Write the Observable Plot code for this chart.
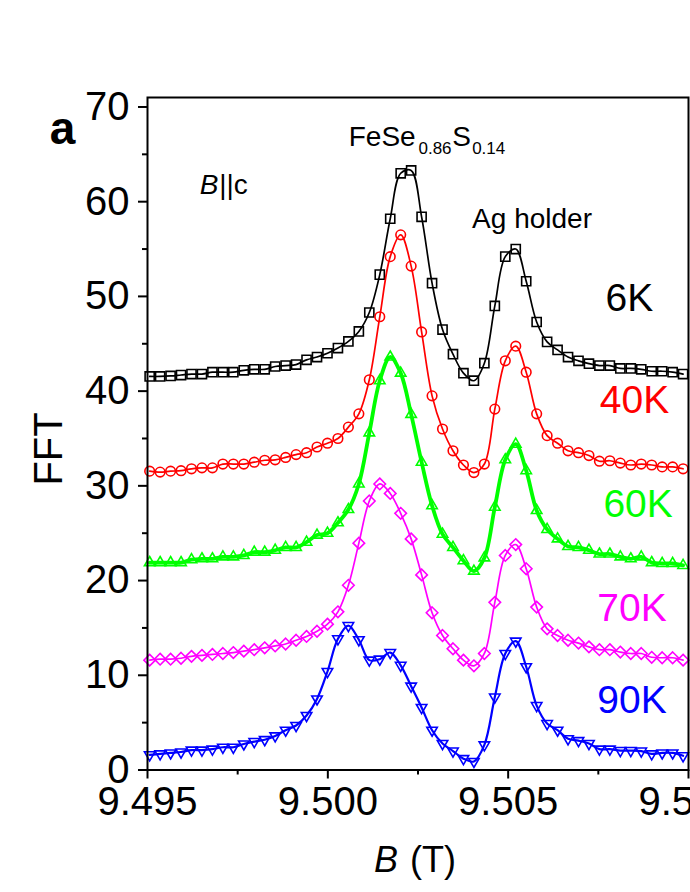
<!DOCTYPE html>
<html>
<head>
<meta charset="utf-8">
<script src="https://cdn.jsdelivr.net/npm/d3@7"></script>
<script src="https://cdn.jsdelivr.net/npm/@observablehq/plot@0.6"></script>
<style>
  html, body { margin: 0; padding: 0; background: #fff; overflow: hidden; }
  #chart { width: 690px; height: 892px; overflow: hidden; }
</style>
</head>
<body>
<div id="chart"></div>
<script>
// Magnetic field grid (T), shared by all curves
const B = [9.49506, 9.49535, 9.49564, 9.49593, 9.49622, 9.49651, 9.49680, 9.49709, 9.49738, 9.49767,
  9.49796, 9.49825, 9.49854, 9.49883, 9.49912, 9.49941, 9.49970, 9.49999, 9.50028, 9.50057,
  9.50086, 9.50115, 9.50144, 9.50173, 9.50202, 9.50231, 9.50260, 9.50289, 9.50318, 9.50347,
  9.50376, 9.50405, 9.50434, 9.50463, 9.50492, 9.50521, 9.50550, 9.50579, 9.50608, 9.50637,
  9.50666, 9.50695, 9.50724, 9.50753, 9.50782, 9.50811, 9.50840, 9.50869, 9.50898, 9.50927,
  9.50956, 9.50985];

const fft6K = [41.55, 41.55, 41.6, 41.7, 41.8, 41.8, 42.0, 42.0, 42.0, 42.2, 42.3, 42.3, 42.6, 42.7, 42.8, 43.3,
  43.6, 44.0, 44.55, 45.25, 46.3, 48.3, 52.3, 58.2, 63.0, 63.3, 58.4, 51.4, 46.5, 43.9, 41.9, 41.1, 42.95,
  49.0, 54.2, 55.0, 51.6, 47.3, 45.2, 44.35, 43.6, 43.2, 42.9, 42.7, 42.7, 42.4, 42.4, 42.3, 42.1, 42.1, 42.0, 41.8];
const fft40K = [31.55, 31.45, 31.55, 31.6, 31.8, 31.9, 31.9, 32.3, 32.3, 32.3, 32.5, 32.7, 32.75, 33.0, 33.3, 33.5,
  34.1, 34.5, 35.0, 36.2, 37.6, 41.2, 47.85, 54.2, 56.5, 53.2, 46.25, 39.5, 36.0, 33.7, 32.2, 31.4, 32.3,
  38.1, 43.2, 44.75, 42.0, 37.6, 35.3, 34.5, 33.7, 33.5, 33.2, 32.6, 32.65, 32.4, 32.2, 32.3, 32.2, 32.0, 32.0, 31.8];
const fft60K = [21.9, 21.9, 21.9, 21.9, 22.2, 22.3, 22.3, 22.5, 22.5, 22.65, 23.0, 23.0, 23.2, 23.5, 23.5, 24.05,
  24.8, 25.0, 26.1, 27.5, 30.2, 35.6, 41.1, 43.6, 41.9, 37.55, 32.5, 27.9, 24.9, 23.5, 22.1, 21.0, 22.4,
  27.75, 32.75, 34.4, 31.6, 27.4, 25.4, 24.4, 23.6, 23.5, 23.2, 22.8, 22.8, 22.5, 22.3, 22.5, 21.9, 21.8, 21.8, 21.6];
const fft70K = [11.6, 11.7, 11.7, 11.8, 12.0, 12.1, 12.2, 12.3, 12.4, 12.55, 12.7, 12.9, 13.1, 13.3, 13.7, 14.1,
  14.65, 15.4, 16.7, 19.5, 23.95, 28.4, 30.2, 29.2, 27.1, 24.4, 20.6, 16.6, 14.2, 12.8, 11.6, 11.0, 12.3,
  17.7, 22.65, 23.8, 21.25, 17.2, 14.9, 14.2, 13.7, 13.4, 13.0, 12.7, 12.7, 12.45, 12.3, 12.3, 11.9, 11.85, 11.85, 11.6];
const fft90K = [1.6, 1.7, 1.8, 1.9, 2.1, 2.1, 2.2, 2.4, 2.4, 2.75, 3.0, 3.2, 3.6, 4.2, 4.7, 5.75,
  7.5, 10.4, 13.85, 15.25, 13.75, 11.6, 11.7, 12.4, 11.05, 8.85, 6.6, 4.2, 2.8, 2.0, 1.2, 0.9, 2.65,
  7.7, 12.3, 13.6, 10.9, 6.8, 4.9, 4.2, 3.3, 3.1, 2.8, 2.2, 2.2, 2.05, 2.05, 2.0, 1.7, 1.8, 1.8, 1.5];

const seriesNames = ["6K", "40K", "60K", "70K", "90K"];
const seriesValues = [fft6K, fft40K, fft60K, fft70K, fft90K];

const xTicks = [9.495, 9.500, 9.505, 9.510];
const xMinorTicks = [9.4975, 9.5025, 9.5075];
const yTicks = [0, 10, 20, 30, 40, 50, 60, 70];
const yMinorTicks = [5, 15, 25, 35, 45, 55, 65];

// Label anchors (data coordinates)
const labelB = [9.50770, 9.50754, 9.50764, 9.50747, 9.50747];
const labelFFT = [48.41, 37.74, 26.66, 15.68, 6.07];

// Styles
const colors = ["#000000", "#ff0000", "#00ff00", "#ff00ff", "#0000ff"];
const lineWidths = [1.7, 1.7, 3.8, 1.7, 2.2];
const triangleDown = {
  draw(context, size) {
    const s = Math.sqrt(size) * 0.6824, t = s / 2, u = s * Math.sqrt(3) / 2;
    context.moveTo(0, s);
    context.lineTo(u, -t);
    context.lineTo(-u, -t);
    context.closePath();
  }
};
const symbols = ["square2", "circle", "triangle2", "diamond2", triangleDown];
const radii = [5.8, 4.8, 5.0, 5.2, 5.0];

const rows = seriesNames.flatMap((name, k) =>
  B.map((b, i) => ({B: b, FFT: seriesValues[k][i], T: name})));

const font = "Liberation Sans, Arial, Helvetica, sans-serif";
const seriesMarks = seriesNames.flatMap((name, k) => {
  const d = rows.filter(r => r.T === name);
  return [
    Plot.line(d, {x: "B", y: "FFT", stroke: colors[k], strokeWidth: lineWidths[k], curve: "catmull-rom"}),
    Plot.dot(d, {x: "B", y: "FFT", stroke: colors[k], fill: "none", symbol: symbols[k], r: radii[k], strokeWidth: 1.6})
  ];
});

const labels = seriesNames.map((name, k) => ({x: labelB[k], y: labelFFT[k], text: name, k}));

const txt = (x, y, text, opts) => Plot.text([{x, y, text}], {x: "x", y: "y", text: "text", textAnchor: "start", lineAnchor: "bottom", fill: "black", fontFamily: font, ...opts});

const plot = Plot.plot({
  width: 690,
  height: 892,
  marginLeft: 147,
  marginRight: 2,
  marginTop: 97,
  marginBottom: 122.5,
  style: {fontFamily: font, fontSize: "40px", background: "white", overflow: "visible"},
  x: {domain: [9.495, 9.510], label: null},
  y: {domain: [0, 71], label: null},
  marks: [
    ...seriesMarks,
    Plot.frame({stroke: "black", strokeWidth: 2}),
    Plot.axisX(xTicks, {tickSize: 9, tickPadding: 8, strokeWidth: 2, tickFormat: d3.format(".3f"), fontSize: 40, label: null}),
    Plot.axisX(xMinorTicks, {tickSize: 5, strokeWidth: 2, tickFormat: () => "", label: null}),
    Plot.axisY(yTicks, {tickSize: 9, tickPadding: 9, strokeWidth: 2, tickFormat: d3.format("d"), fontSize: 40, label: null}),
    Plot.axisY(yMinorTicks, {tickSize: 5, strokeWidth: 2, tickFormat: () => "", label: null}),
    Plot.text(labels, {x: "x", y: "y", text: "text", fill: d => colors[d.k], textAnchor: "start", lineAnchor: "bottom", fontSize: 39, fontFamily: font}),
    // panel letter
    txt(9.49229, 66.14, "a", {fontSize: 46, fontWeight: "bold"}),
    // B||c
    txt(9.49645, 60.86, "B", {fontSize: 28, fontStyle: "italic"}),
    txt(9.49645, 60.86, "||c", {fontSize: 28, dx: 19.5}),
    // formula
    txt(9.50058, 65.93, "FeSe", {fontSize: 28}),
    txt(9.50058, 65.93, "0.86", {fontSize: 17, dx: 69.7, dy: 8}),
    txt(9.50058, 65.93, "S", {fontSize: 28, dx: 103.4}),
    txt(9.50058, 65.93, "0.14", {fontSize: 17, dx: 123.4, dy: 8}),
    // Ag holder
    txt(9.50400, 57.27, "Ag holder", {fontSize: 28}),
    // axis titles
    txt(9.50128, -10.72, "B", {fontSize: 36, fontStyle: "italic"}),
    txt(9.50128, -10.72, "(T)", {fontSize: 36, dx: 36}),
    txt(9.492635, 33.9, "FFT", {fontSize: 40, rotate: -90, textAnchor: "middle"})
  ]
});
document.getElementById("chart").appendChild(plot);
</script>
</body>
</html>
